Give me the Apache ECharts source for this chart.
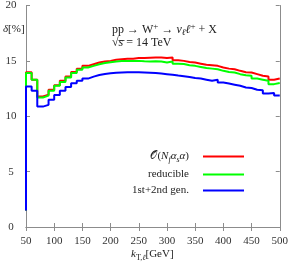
<!DOCTYPE html>
<html><head><meta charset="utf-8">
<script src="https://cdn.jsdelivr.net/npm/echarts@6/dist/echarts.min.js"></script>
<style>html,body{margin:0;padding:0;background:#fff}#c{width:291px;height:266px}</style>
</head><body><div id="c"></div>
<script>
// bin left edges (GeV), bin width 10
const binEdges = [50,60,70,80,90,100,110,120,130,140,150,160,170,180,190,200,210,220,230,240,250,260,270,280,290,300,310,320,330,340,350,360,370,380,390,400,410,420,430,440,450,460,470,480,490];
const redVals = [13.97,13.3,11.78,11.95,12.4,12.8,13.2,13.6,14.0,14.3,14.55,14.7,14.85,14.95,15.0,15.1,15.15,15.2,15.2,15.25,15.25,15.28,15.3,15.3,15.25,15.3,15.05,15.0,14.9,14.85,14.75,14.65,14.6,14.55,14.4,14.3,14.25,14.1,13.97,13.95,13.8,13.65,13.6,13.3,13.4];
const greenVals = [13.9,13.3,11.7,11.86,12.3,12.75,13.1,13.5,13.9,14.2,14.4,14.55,14.7,14.8,14.88,14.95,14.98,15.0,15.0,15.0,14.97,14.95,14.97,14.95,14.85,14.95,14.75,14.72,14.6,14.55,14.45,14.35,14.3,14.25,14.1,14.0,13.95,13.8,13.7,13.65,13.4,13.3,13.2,12.9,13.0];
const blueVals = [12.68,12.3,10.87,11.03,11.5,11.93,12.3,12.65,12.97,13.2,13.4,13.58,13.72,13.82,13.88,13.92,13.95,13.97,13.97,13.97,13.95,13.93,13.9,13.85,13.8,13.75,13.68,13.62,13.55,13.45,13.4,13.3,13.2,13.3,13.05,12.95,12.85,12.75,12.6,12.55,12.4,12.35,12.05,12.1,11.88];
const startVal = 1.5;   // value below the first bin (vertical edge at 50 GeV)
const xEnd = 500;
const seriesNames = ['O(Nf as a)', 'reducible', '1st+2nd gen.'];

function build(vals){
  const d = [[binEdges[0], startVal]];
  binEdges.forEach((x,i)=>d.push([x, vals[i]]));
  d.push([xEnd, vals[vals.length-1]]);
  return d;
}
const F = 'Liberation Serif, Times New Roman, serif';
const axisCol = '#8c8c8c';
const TC = '#222';
const richBase = function(fs){
  return {
    t:{fontFamily:F,fontSize:fs,fill:TC,color:TC,lineHeight:15,verticalAlign:'middle'},
    it:{fontFamily:F,fontSize:fs,fontStyle:'italic',fill:TC,color:TC,lineHeight:15,verticalAlign:'middle'},
    cal:{fontFamily:'DejaVu Serif, serif',fontSize:fs,fill:TC,color:TC,lineHeight:15,verticalAlign:'middle'},
    sub:{fontFamily:F,fontSize:fs-3,fill:TC,color:TC,lineHeight:8,verticalAlign:'bottom'},
    subi:{fontFamily:F,fontSize:fs-3,fontStyle:'italic',fill:TC,color:TC,lineHeight:8,verticalAlign:'bottom'},
    sup:{fontFamily:F,fontSize:fs-3,fill:TC,color:TC,lineHeight:8,verticalAlign:'top'}
  };
};
const chart = echarts.init(document.getElementById('c'));
const baseAxis = {
  axisLine:{show:true,lineStyle:{color:axisCol,width:1}},
  axisTick:{show:true,inside:true,length:4,lineStyle:{color:axisCol}},
  splitLine:{show:false}
};
chart.setOption({
  animation:false,
  grid:{left:26,right:9,top:5,bottom:39},
  xAxis:[
    Object.assign({type:'value',min:50,max:500,interval:50,position:'bottom',
      axisLabel:{color:'#333',fontFamily:F,fontSize:11,margin:9}},baseAxis),
    Object.assign({type:'value',min:50,max:500,interval:50,position:'top',axisLabel:{show:false}},baseAxis)
  ],
  yAxis:[
    Object.assign({type:'value',min:0,max:20,interval:5,position:'left',
      axisLabel:{color:'#333',fontFamily:F,fontSize:11,margin:15,align:'center'}},baseAxis),
    Object.assign({type:'value',min:0,max:20,interval:5,position:'right',axisLabel:{show:false}},baseAxis)
  ],
  legend:{
    orient:'vertical', right:47, top:151, align:'right', icon:'rect', padding:0,
    itemWidth:41, itemHeight:2, itemGap:5,
    data:seriesNames,
    formatter:function(n){
      if(n===seriesNames[0]) return '{cal|𝒪}{t|(}{it|N}{subi|f}{it|α}{subi|s}{it|α}{t|)}';
      return '{t|'+n+'}';
    },
    textStyle:{color:TC,fontFamily:F,fontSize:11,padding:[0,9,0,0],rich:richBase(11)}
  },
  graphic:[
    {type:'text',left:112,top:22,style:{rich:richBase(12),
      text:'{t|pp → W}{sup|+}{t| → }{it|ν}{subi|ℓ}{it|ℓ}{sup|+}{t| + X}'}},
    {type:'text',left:112,top:37,style:{rich:richBase(12),
      text:'{t|√}{it|s}{t| = 14 TeV}'}},
    {type:'line',shape:{x1:118.5,y1:40.5,x2:124.5,y2:40.5},style:{stroke:TC,lineWidth:0.8}},
    {type:'text',left:3,top:24,style:{rich:richBase(11),text:'{it|δ}{t|[%]}'}},
    {type:'text',left:131,top:249,style:{rich:richBase(11),text:'{it|k}{sub|T,}{subi|ℓ}{t|[GeV]}'}}
  ],
  series:[
    {name:seriesNames[0],type:'line',step:'end',showSymbol:false,data:build(redVals),
     lineStyle:{color:'#ff0000',width:2},itemStyle:{color:'#ff0000'},z:2},
    {name:seriesNames[1],type:'line',step:'end',showSymbol:false,data:build(greenVals),
     lineStyle:{color:'#00ff00',width:2},itemStyle:{color:'#00ff00'},z:3},
    {name:seriesNames[2],type:'line',step:'end',showSymbol:false,data:build(blueVals),
     lineStyle:{color:'#0000ff',width:2},itemStyle:{color:'#0000ff'},z:4}
  ]
});
</script></body></html>
